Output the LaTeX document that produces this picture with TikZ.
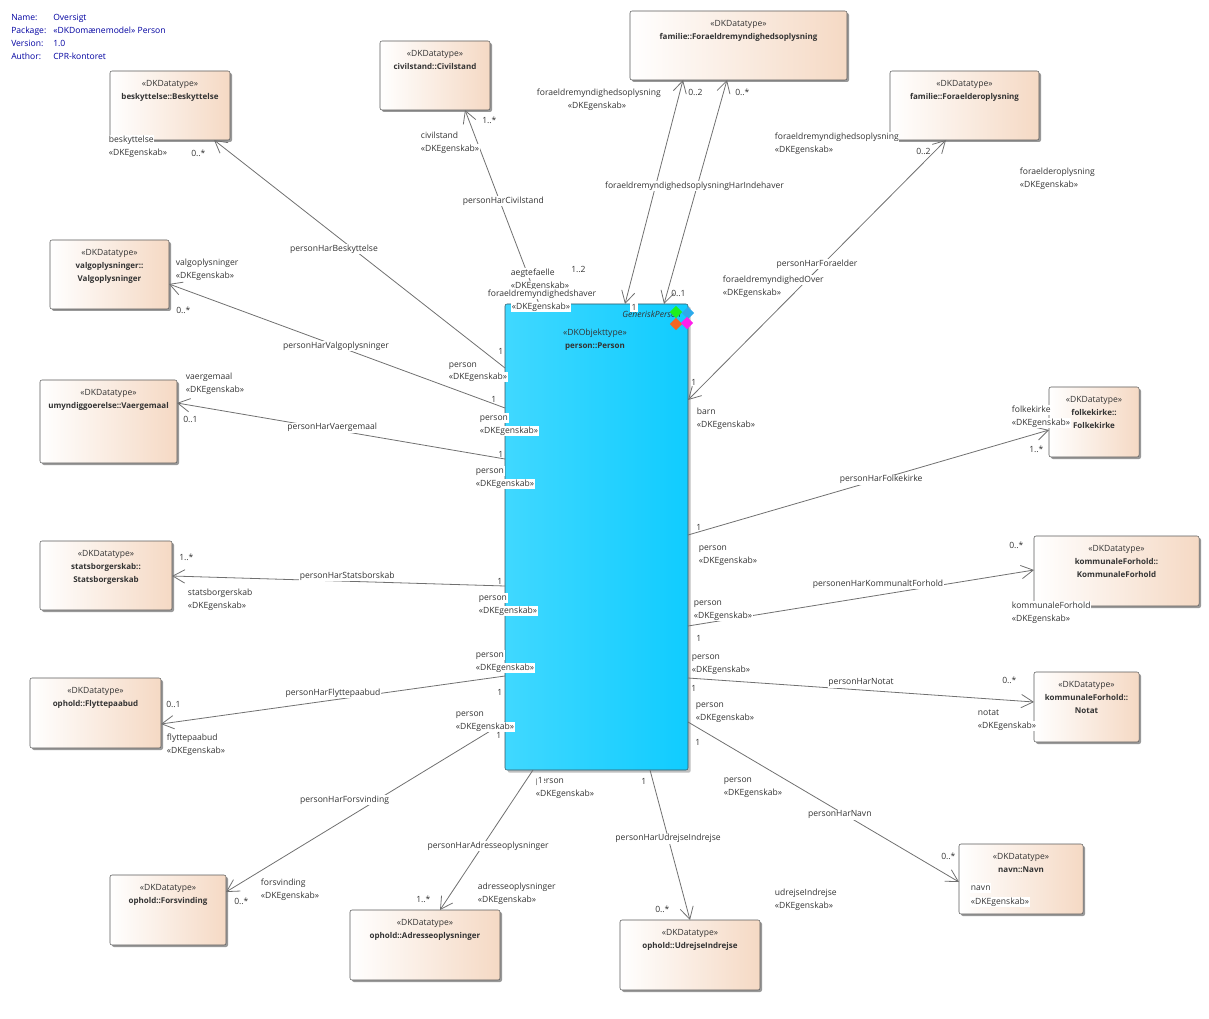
\documentclass[tikz,border=0pt]{standalone}
\usepackage{fontspec}
\setmainfont{Open Sans}[BoldFeatures={Scale=0.935}]
\usetikzlibrary{arrows.meta, positioning, shapes.geometric, shadows}
\definecolor{linegray}{HTML}{707070}
\definecolor{boxedge}{HTML}{5A5A5A}
\definecolor{peach}{HTML}{F5D9C4}
\definecolor{cyanleft}{HTML}{40D8FF}
\definecolor{cyanright}{HTML}{10CCFF}
\definecolor{cyanedge}{HTML}{3A5560}
\definecolor{inktext}{HTML}{333333}
\definecolor{headtext}{HTML}{0000A0}

\begin{document}
\begin{tikzpicture}[
    x=0.75pt, y=-0.75pt,
    smallfont/.style={font=\fontsize{6.42}{9.75}\selectfont, text=inktext},
    dtbox/.style={rectangle, draw=boxedge, rounded corners=1.5pt, anchor=north west, outer sep=0pt,
        left color=white, right color=peach,
        drop shadow={shadow xshift=1.5pt, shadow yshift=-1.5pt, fill=black!40, opacity=1}},
    boxsize/.style 2 args={minimum width=#1*0.75pt, minimum height=#2*0.75pt},
    dthead/.style={smallfont, anchor=north, align=center, inner sep=0pt, yshift=-6.8pt},
    objbox/.style={rectangle, draw=cyanedge, rounded corners=1.5pt, anchor=north west, outer sep=0pt,
        left color=cyanleft, right color=cyanright,
        drop shadow={shadow xshift=2pt, shadow yshift=-2pt, fill=black!25, opacity=1}},
    gem/.style={diamond, minimum size=9.5pt, inner sep=0pt},
    assoc/.style={draw=linegray, line width=0.6pt, -{Straight Barb[length=9pt, width=10pt]}},
    assocboth/.style={draw=linegray, line width=0.6pt, {Straight Barb[length=9pt, width=10pt]}-{Straight Barb[length=9pt, width=10pt]}},
    asslabel/.style={smallfont, fill=white, inner sep=0.5pt, yshift=-0.6pt},
    rolelabel/.style={smallfont, anchor=west, fill=white, inner sep=0.5pt, text height=5pt, text depth=1.5pt, yshift=-0.6pt},
    multlabel/.style={smallfont, anchor=west, inner sep=0pt, text height=5pt, text depth=1.5pt, yshift=-0.6pt},
    headlabel/.style={font=\fontsize{6.42}{9.75}\selectfont, text=headtext, anchor=west, inner sep=0pt, text height=5pt, text depth=1.5pt, yshift=-0.6pt}
]
\useasboundingbox (0,0) rectangle (1209,1019);

% Header
\node[headlabel] (hName) at (11,17) {Name:};
\node[headlabel] (hNameVal) at (53,17) {Oversigt};
\node[headlabel] (hPackage) at (11,30) {Package:};
\node[headlabel] (hPackageVal) at (53,30) {«DKDomænemodel» Person};
\node[headlabel] (hVersion) at (11,43) {Version:};
\node[headlabel] (hVersionVal) at (53,43) {1.0};
\node[headlabel] (hAuthor) at (11,56) {Author:};
\node[headlabel] (hAuthorVal) at (53,56) {CPR-kontoret};

% Nodes
\node[objbox, boxsize={183}{466}] (Person) at (505,304) {};
\node[smallfont, font=\fontsize{6.42}{9.75}\selectfont\itshape, anchor=west, inner sep=0pt] (PersonGen) at (622,314) {GeneriskPerson};
\node[gem, fill={rgb,255:red,45;green,170;blue,235}] (gemBlue) at (688,313) {};
\node[gem, fill={rgb,255:red,30;green,240;blue,30}] (gemGreen) at (676,312) {};
\node[gem, fill={rgb,255:red,242;green,101;blue,34}] (gemOrange) at (676,324) {};
\node[gem, fill={rgb,255:red,255;green,30;blue,235}] (gemMagenta) at (687,323) {};
\node[dthead, yshift=6.8pt] (PersonText) at (595,329) {«DKObjekttype»\\\textbf{person::Person}};

\node[dtbox, boxsize={120}{69}, label={[dthead]north:{«DKDatatype»\\\textbf{beskyttelse::Beskyttelse}}}] (Beskyttelse) at (110,71) {};
\node[dtbox, boxsize={110}{69}, label={[dthead]north:{«DKDatatype»\\\textbf{civilstand::Civilstand}}}] (Civilstand) at (380,41) {};
\node[dtbox, boxsize={217}{69}, label={[dthead]north:{«DKDatatype»\\\textbf{familie::Foraeldremyndighedsoplysning}}}] (Myndighed) at (630,11) {};
\node[dtbox, boxsize={149}{69}, label={[dthead]north:{«DKDatatype»\\\textbf{familie::Foraelderoplysning}}}] (Foraelder) at (890,71) {};
\node[dtbox, boxsize={119}{69}, label={[dthead]north:{«DKDatatype»\\\textbf{valgoplysninger::}\\\textbf{Valgoplysninger}}}] (Valg) at (50,240) {};
\node[dtbox, boxsize={137}{83}, label={[dthead]north:{«DKDatatype»\\\textbf{umyndiggoerelse::Vaergemaal}}}] (Vaerge) at (40,380) {};
\node[dtbox, boxsize={132}{69}, label={[dthead]north:{«DKDatatype»\\\textbf{statsborgerskab::}\\\textbf{Statsborgerskab}}}] (Statsborger) at (40,541) {};
\node[dtbox, boxsize={131}{70}, label={[dthead]north:{«DKDatatype»\\\textbf{ophold::Flyttepaabud}}}] (Flytte) at (30,678) {};
\node[dtbox, boxsize={116}{70}, label={[dthead]north:{«DKDatatype»\\\textbf{ophold::Forsvinding}}}] (Forsvinding) at (110,875) {};
\node[dtbox, boxsize={150}{70}, label={[dthead]north:{«DKDatatype»\\\textbf{ophold::Adresseoplysninger}}}] (Adresse) at (350,910) {};
\node[dtbox, boxsize={140}{70}, label={[dthead]north:{«DKDatatype»\\\textbf{ophold::UdrejseIndrejse}}}] (Udrejse) at (620,920) {};
\node[dtbox, boxsize={124}{70}, label={[dthead]north:{«DKDatatype»\\\textbf{navn::Navn}}}] (Navn) at (959,844) {};
\node[dtbox, boxsize={105}{70}, label={[dthead]north:{«DKDatatype»\\\textbf{kommunaleForhold::}\\\textbf{Notat}}}] (Notat) at (1034,672) {};
\node[dtbox, boxsize={165}{70}, label={[dthead]north:{«DKDatatype»\\\textbf{kommunaleForhold::}\\\textbf{KommunaleForhold}}}] (Kommunal) at (1034,536) {};
\node[dtbox, boxsize={90}{70}, label={[dthead]north:{«DKDatatype»\\\textbf{folkekirke::}\\\textbf{Folkekirke}}}] (Folkekirke) at (1049,387) {};

% Paths
\draw[assoc] ([shift={(0,64)}]Person.north west) -- node[asslabel, pos=0.526, xshift=-13.5pt] {personHarBeskyttelse} ([shift={(-16,0)}]Beskyttelse.south east);
\draw[assoc] ([shift={(34,0)}]Person.north west) -- node[asslabel, pos=0.536, xshift=3pt] {personHarCivilstand} ([shift={(85,0)}]Civilstand.south west);
\draw[assocboth] ([shift={(120,0)}]Person.north west) -- ([shift={(53,0)}]Myndighed.south west);
\draw[assocboth] ([shift={(159,0)}]Person.north west) -- node[asslabel, pos=0.531, xshift=-2.25pt] {foraeldremyndighedsoplysningHarIndehaver} ([shift={(97,0)}]Myndighed.south west);
\draw[assocboth] ([shift={(0,96)}]Person.north east) -- node[asslabel, pos=0.527, xshift=-5.25pt] {personHarForaelder} ([shift={(-93,0)}]Foraelder.south east);
\draw[assoc] ([shift={(0,104)}]Person.north west) -- node[asslabel, pos=0.503] {personHarValgoplysninger} ([shift={(0,-25)}]Valg.south east);
\draw[assoc] ([shift={(0,155)}]Person.north west) -- node[asslabel, pos=0.527, yshift=1.9pt] {personHarVaergemaal} ([shift={(0,23)}]Vaerge.north east);
\draw[assoc] ([shift={(0,282)}]Person.north west) -- node[asslabel, pos=0.474, yshift=4.5pt] {personHarStatsborskab} ([shift={(0,35)}]Statsborger.north east);
\draw[assoc] ([shift={(0,372)}]Person.north west) -- node[asslabel, pos=0.5, yshift=6pt] {personHarFlyttepaabud} ([shift={(0,-24)}]Flytte.south east);
\draw[assoc] ([shift={(0,418)}]Person.north west) -- node[asslabel, pos=0.453, xshift=-25.5pt] {personHarForsvinding} ([shift={(0,17)}]Forsvinding.north east);
\draw[assoc] ([shift={(28,0)}]Person.south west) -- node[asslabel, pos=0.536, xshift=3.75pt] {personHarAdresseoplysninger} ([shift={(90,0)}]Adresse.north west);
\draw[assoc] ([shift={(145,0)}]Person.south west) -- node[asslabel, pos=0.453] {personHarUdrejseIndrejse} ([shift={(70,0)}]Udrejse.north west);
\draw[assoc] ([shift={(0,418)}]Person.north east) -- node[asslabel, pos=0.575, xshift=-3pt] {personHarNavn} ([shift={(0,38)}]Navn.north west);
\draw[assoc] ([shift={(0,374)}]Person.north east) -- node[asslabel, pos=0.5, yshift=6pt] {personHarNotat} ([shift={(0,30)}]Notat.north west);
\draw[assoc] ([shift={(0,322)}]Person.north east) -- node[asslabel, pos=0.549, yshift=9pt] {personenHarKommunaltForhold} ([shift={(0,34)}]Kommunal.north west);
\draw[assoc] ([shift={(0,231)}]Person.north east) -- node[asslabel, pos=0.535] {personHarFolkekirke} ([shift={(0,43)}]Folkekirke.north west);

% Role labels
\node[rolelabel] (rBesk) at (108,139) {beskyttelse};
\node[rolelabel] (sBesk) at (108,152) {«DKEgenskab»};
\node[rolelabel] (rCivil) at (420,135) {civilstand};
\node[rolelabel] (sCivil) at (420,148) {«DKEgenskab»};
\node[rolelabel] (rMynd) at (536,92) {foraeldremyndighedsoplysning};
\node[rolelabel] (sMynd) at (567,105) {«DKEgenskab»};
\node[rolelabel] (rMynd2) at (774,136) {foraeldremyndighedsoplysning};
\node[rolelabel] (sMynd2) at (774,149) {«DKEgenskab»};
\node[rolelabel] (rForael) at (1019,171) {foraelderoplysning};
\node[rolelabel] (sForael) at (1019,184) {«DKEgenskab»};
\node[rolelabel] (rValg) at (175,262) {valgoplysninger};
\node[rolelabel] (sValg) at (175,275) {«DKEgenskab»};
\node[rolelabel] (rPBesk) at (448,364) {person};
\node[rolelabel] (sPBesk) at (448,376) {«DKEgenskab»};
\node[rolelabel] (rPValg) at (479,417) {person};
\node[rolelabel] (sPValg) at (479,430) {«DKEgenskab»};
\node[rolelabel] (rVaerge) at (185,376) {vaergemaal};
\node[rolelabel] (sVaerge) at (185,389) {«DKEgenskab»};
\node[rolelabel] (rPVaerge) at (475,470) {person};
\node[rolelabel] (sPVaerge) at (475,483) {«DKEgenskab»};
\node[rolelabel] (rStats) at (187,592) {statsborgerskab};
\node[rolelabel] (sStats) at (187,605) {«DKEgenskab»};
\node[rolelabel] (rPStats) at (478,597) {person};
\node[rolelabel] (sPStats) at (478,610) {«DKEgenskab»};
\node[rolelabel] (rPFlytte) at (475,654) {person};
\node[rolelabel] (sPFlytte) at (475,667) {«DKEgenskab»};
\node[rolelabel] (rFlytte) at (166,737) {flyttepaabud};
\node[rolelabel] (sFlytte) at (166,750) {«DKEgenskab»};
\node[rolelabel] (rPForsv) at (455,713) {person};
\node[rolelabel] (sPForsv) at (455,726) {«DKEgenskab»};
\node[rolelabel] (rForsv) at (260,882) {forsvinding};
\node[rolelabel] (sForsv) at (260,895) {«DKEgenskab»};
\node[rolelabel] (rAdr) at (477,886) {adresseoplysninger};
\node[rolelabel] (sAdr) at (477,899) {«DKEgenskab»};
\node[rolelabel] (rPAdr) at (535,780) {person};
\node[rolelabel] (sPAdr) at (535,793) {«DKEgenskab»};
\node[rolelabel] (rUdr) at (774,892) {udrejseIndrejse};
\node[rolelabel] (sUdr) at (774,905) {«DKEgenskab»};
\node[rolelabel] (rBarn) at (696,411) {barn};
\node[rolelabel] (sBarn) at (696,424) {«DKEgenskab»};
\node[rolelabel] (rAegte) at (510,272) {aegtefaelle};
\node[rolelabel] (sAegte) at (510,285) {«DKEgenskab»};
\node[rolelabel] (rHaver) at (487,293) {foraeldremyndighedshaver};
\node[rolelabel] (sHaver) at (511,306) {«DKEgenskab»};
\node[rolelabel] (rOver) at (722,279) {foraeldremyndighedOver};
\node[rolelabel] (sOver) at (722,292) {«DKEgenskab»};
\node[rolelabel] (rFolke) at (1011,409) {folkekirke};
\node[rolelabel] (sFolke) at (1011,422) {«DKEgenskab»};
\node[rolelabel] (rPFolke) at (698,547) {person};
\node[rolelabel] (sPFolke) at (698,560) {«DKEgenskab»};
\node[rolelabel] (rPKom) at (693,602) {person};
\node[rolelabel] (sPKom) at (693,615) {«DKEgenskab»};
\node[rolelabel] (rKom) at (1011,605) {kommunaleForhold};
\node[rolelabel] (sKom) at (1011,618) {«DKEgenskab»};
\node[rolelabel] (rPNotat) at (691,656) {person};
\node[rolelabel] (sPNotat) at (691,669) {«DKEgenskab»};
\node[rolelabel] (rNotat) at (977,712) {notat};
\node[rolelabel] (sNotat) at (977,725) {«DKEgenskab»};
\node[rolelabel] (rPNavn) at (695,704) {person};
\node[rolelabel] (sPNavn) at (695,717) {«DKEgenskab»};
\node[rolelabel] (rPUdr) at (723,779) {person};
\node[rolelabel] (sPUdr) at (723,792) {«DKEgenskab»};
\node[rolelabel] (rNavn) at (970,887) {navn};
\node[rolelabel] (sNavn) at (970,901) {«DKEgenskab»};

% Multiplicities
\node[multlabel] (mBesk) at (191,153) {0..*};
\node[multlabel] (mCivil) at (482,120) {1..*};
\node[multlabel] (mMynd1) at (688,92) {0..2};
\node[multlabel] (mMynd2) at (735,92) {0..*};
\node[multlabel] (mForael) at (916,151) {0..2};
\node[multlabel] (mValg) at (176,310) {0..*};
\node[multlabel] (mVaerge) at (183,419) {0..1};
\node[multlabel] (mStats) at (179,557) {1..*};
\node[multlabel] (mFlytte) at (166,704) {0..1};
\node[multlabel] (mForsv) at (234,901) {0..*};
\node[multlabel] (mAdr) at (416,899) {1..*};
\node[multlabel] (mUdr) at (655,909) {0..*};
\node[multlabel] (mNavn) at (941,856) {0..*};
\node[multlabel] (mNotat) at (1002,680) {0..*};
\node[multlabel] (mKom) at (1009,545) {0..*};
\node[multlabel] (mFolke) at (1029,449) {1..*};
\node[multlabel] (mAegte) at (571,269) {1..2};
\node[multlabel] (mHaver) at (671,293) {0..1};
\node[multlabel, fill=white, inner xsep=1pt] (pMynd1) at (630,307) {1};
\node[multlabel] (pBesk) at (498,351) {1};
\node[multlabel] (pValg) at (491,399) {1};
\node[multlabel] (pVaerge) at (498,454) {1};
\node[multlabel] (pStats) at (497,581) {1};
\node[multlabel] (pFlytte) at (497,692) {1};
\node[multlabel] (pForsv) at (496,735) {1};
\node[multlabel, fill=white, inner xsep=0.5pt] (pAdr) at (537,780) {1};
\node[multlabel] (pUdr) at (641,781) {1};
\node[multlabel] (pBarn) at (691,382) {1};
\node[multlabel] (pFolke) at (696,527) {1};
\node[multlabel] (pKom) at (696,638) {1};
\node[multlabel] (pNotat) at (691,688) {1};
\node[multlabel] (pNavn) at (695,742) {1};

\end{tikzpicture}
\end{document}
